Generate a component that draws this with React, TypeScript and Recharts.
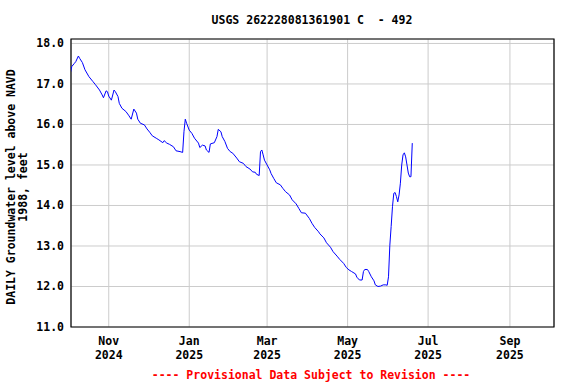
import React from "react";
import {
  LineChart,
  Line,
  XAxis,
  YAxis,
  CartesianGrid,
  ReferenceArea,
} from "recharts";

// day index: 0 = 2024-10-01
const days = [
  2, 3, 5, 6, 8, 9, 11, 13, 16, 19, 21, 24, 26, 27, 29, 30, 31, 33, 35, 36,
  38, 39, 41, 44, 46, 48, 50, 52, 53, 55, 58, 60, 62, 64, 67, 69, 72, 73, 75,
  77, 80, 82, 85, 87, 88, 89, 90, 92, 94, 96, 99, 100, 102, 104, 105, 107, 108,
  110, 111, 113, 114, 116, 117, 119, 121, 123, 125, 128, 130, 133, 135, 138,
  140, 142, 143, 145, 146, 147, 148, 149, 151, 153, 154, 156, 158, 161, 163,
  165, 168, 170, 173, 175, 177, 180, 183, 185, 187, 190, 191, 194, 196, 199,
  201, 204, 206, 209, 211, 213, 215, 218, 219, 221, 223, 224, 225, 227, 228,
  230, 232, 233, 235, 237, 239, 241, 242, 243, 244, 245, 246, 247, 248, 249,
  250, 251, 252, 253, 254, 255, 256, 257, 258, 259, 260, 261,
];
const levels = [
  17.28, 17.43, 17.51, 17.55, 17.69, 17.63, 17.53, 17.35, 17.18, 17.06, 16.98,
  16.85, 16.73, 16.66, 16.83, 16.81, 16.7, 16.6, 16.85, 16.81, 16.69, 16.52,
  16.4, 16.32, 16.23, 16.13, 16.38, 16.28, 16.13, 16.03, 15.99, 15.89, 15.81,
  15.72, 15.66, 15.62, 15.55, 15.6, 15.54, 15.51, 15.45, 15.35, 15.33, 15.31,
  15.82, 16.13, 16.03, 15.86, 15.78, 15.66, 15.54, 15.43, 15.49, 15.47, 15.37,
  15.31, 15.52, 15.54, 15.55, 15.7, 15.88, 15.82, 15.7, 15.58, 15.41, 15.33,
  15.29, 15.17, 15.08, 15.04, 14.96, 14.9, 14.83, 14.82, 14.77, 14.74, 15.33,
  15.37, 15.25, 15.12, 15.0, 14.88, 14.79, 14.67, 14.56, 14.51, 14.42, 14.34,
  14.26, 14.14, 14.04, 13.93, 13.82, 13.81, 13.68, 13.56, 13.46, 13.35, 13.3,
  13.2, 13.08, 12.97, 12.86, 12.75, 12.67, 12.57, 12.47, 12.41, 12.37, 12.31,
  12.23, 12.16, 12.16, 12.37, 12.42, 12.42, 12.37, 12.24, 12.14, 12.04, 12.0,
  12.01, 12.04, 12.04, 12.03, 12.24, 13.02, 13.48, 13.97, 14.3, 14.32, 14.22,
  14.09, 14.26, 14.55, 15.0, 15.25, 15.3, 15.2, 15.0, 14.8, 14.71, 14.71, 15.54,
];

const xTicks = [31, 92, 151, 212, 273, 335];
const xTickMonths = ["Nov", "Jan", "Mar", "May", "Jul", "Sep"];
const xTickYears = ["2024", "2025", "2025", "2025", "2025", "2025"];
const yTicks = [11, 12, 13, 14, 15, 16, 17, 18];

const title = "USGS 262228081361901 C  - 492";
const yLabel1 = "DAILY Groundwater level above NAVD";
const yLabel2 = "1988, feet";
const footer = "---- Provisional Data Subject to Revision ----";

const X_MIN = 2.4;
const X_MAX = 368.4;
const Y_MIN = 11;
const Y_MAX = 18.11;

const data = days.map((d, i) => ({ day: d, level: levels[i] }));

const FONT = "'DejaVu Sans Mono', monospace";

const XTick = (props: any) => {
  const { x, payload } = props;
  const i = xTicks.indexOf(payload.value);
  return (
    <g>
      <text
        x={x}
        y={345}
        textAnchor="middle"
        fontFamily={FONT}
        fontWeight="bold"
        fontSize={11.5}
        fill="#000"
      >
        {xTickMonths[i]}
      </text>
      <text
        x={x}
        y={359}
        textAnchor="middle"
        fontFamily={FONT}
        fontWeight="bold"
        fontSize={11.5}
        fill="#000"
      >
        {xTickYears[i]}
      </text>
    </g>
  );
};

const YTick = (props: any) => {
  const { y, payload } = props;
  return (
    <text
      x={64}
      y={y + 4}
      textAnchor="end"
      fontFamily={FONT}
      fontWeight="bold"
      fontSize={11.5}
      fill="#000"
    >
      {Number(payload.value).toFixed(1)}
    </text>
  );
};

export default function App() {
  return (
    <div style={{ position: "absolute", left: 0, top: 0, background: "#fff" }}>
      <LineChart
        width={576}
        height={384}
        data={data}
        margin={{ top: 39, right: 22, bottom: 27, left: 0 }}
      >
        <text
          x={312}
          y={24}
          textAnchor="middle"
          fontFamily={FONT}
          fontWeight="bold"
          fontSize={11.5}
          fill="#000"
          xmlSpace="preserve"
          style={{ whiteSpace: "pre" }}
        >
          {title}
        </text>
        <text
          x={311}
          y={379}
          textAnchor="middle"
          fontFamily={FONT}
          fontWeight="bold"
          fontSize={11.5}
          fill="#ff0000"
        >
          {footer}
        </text>
        <text
          transform="translate(15,187) rotate(-90)"
          textAnchor="middle"
          fontFamily={FONT}
          fontWeight="bold"
          fontSize={11.5}
          fill="#000"
        >
          {yLabel1}
        </text>
        <text
          transform="translate(27,187) rotate(-90)"
          textAnchor="middle"
          fontFamily={FONT}
          fontWeight="bold"
          fontSize={11.5}
          fill="#000"
        >
          {yLabel2}
        </text>
        <CartesianGrid stroke="#cccccc" strokeWidth={1} />
        <XAxis
          dataKey="day"
          type="number"
          height={30}
          domain={[X_MIN, X_MAX]}
          ticks={xTicks}
          tick={<XTick />}
          tickLine={false}
          axisLine={false}
          interval={0}
          allowDataOverflow
        />
        <YAxis
          type="number"
          width={71}
          domain={[Y_MIN, Y_MAX]}
          ticks={yTicks}
          tick={<YTick />}
          tickLine={false}
          axisLine={false}
          interval={0}
          allowDataOverflow
        />
        <ReferenceArea
          x1={X_MIN}
          x2={X_MAX}
          y1={Y_MIN}
          y2={Y_MAX}
          fill="none"
          stroke="#000"
          strokeWidth={1.2}
          ifOverflow="visible"
        />
        <Line
          type="linear"
          dataKey="level"
          stroke="#0000ff"
          strokeWidth={1}
          dot={false}
          isAnimationActive={false}
        />
      </LineChart>
    </div>
  );
}
